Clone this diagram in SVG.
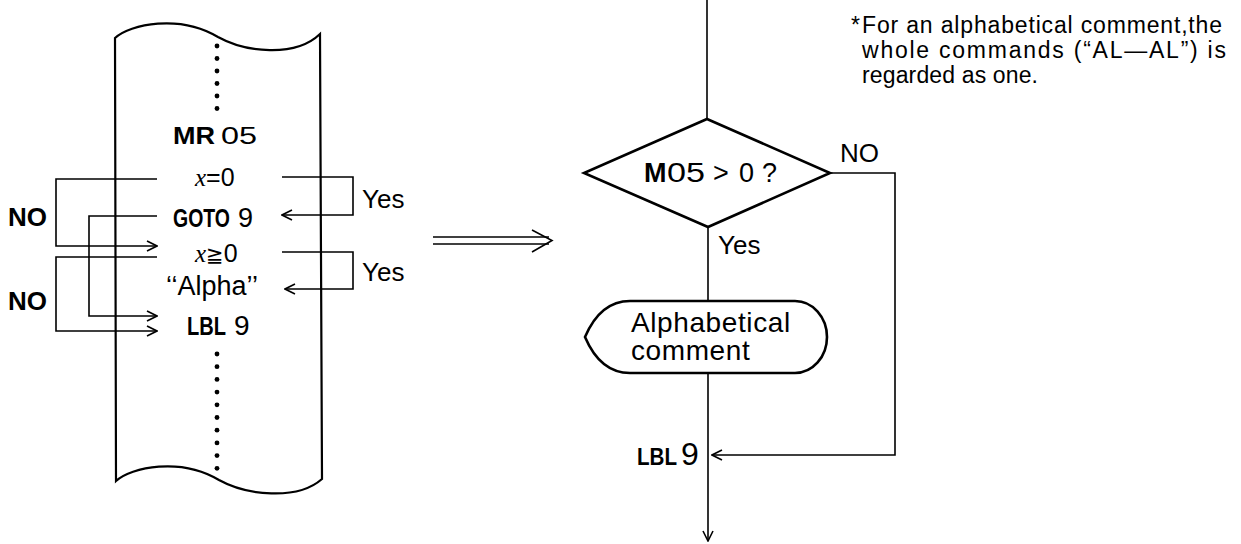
<svg xmlns="http://www.w3.org/2000/svg" width="1241" height="544" viewBox="0 0 1241 544">
  <defs>
    <style>
      .ln { fill: none; stroke: #000; stroke-width: 1.6; }
      .thick { fill: none; stroke: #000; stroke-width: 2.6; stroke-linejoin: miter; }
      .tape { fill: #fff; stroke: #000; stroke-width: 2.2; }
      .t { font-family: "Liberation Sans", Arial, sans-serif; fill: #000; }
      .b { font-weight: bold; }
      .it { font-family: "Liberation Serif", "Times New Roman", serif; font-style: italic; }
      .dot { fill: #000; }
    </style>
    <marker id="ah" viewBox="0 0 12 12" refX="11" refY="6" markerWidth="12" markerHeight="12" markerUnits="userSpaceOnUse" orient="auto">
      <path d="M1,1 L11,6 L1,11" fill="none" stroke="#000" stroke-width="1.6"/>
    </marker>
  </defs>
  <rect width="1241" height="544" fill="#fff"/>

  <!-- program tape -->
  <g id="tape">
    <path class="tape" d="M115,38 C130,24 180,14 218,37 C245,52 295,58 320,34 L322,479 C297,501 246,495 219,480 C181,457 131,467 116,481 Z"/>
    <g id="dots-top">
      <circle class="dot" cx="217" cy="46" r="2.4"/>
      <circle class="dot" cx="217" cy="58.5" r="2.4"/>
      <circle class="dot" cx="217" cy="71" r="2.4"/>
      <circle class="dot" cx="217" cy="83.5" r="2.4"/>
      <circle class="dot" cx="217" cy="96" r="2.4"/>
      <circle class="dot" cx="217" cy="108.5" r="2.4"/>
    </g>
    <g id="dots-bottom">
      <circle class="dot" cx="217" cy="354" r="2.4"/>
      <circle class="dot" cx="217" cy="366.7" r="2.4"/>
      <circle class="dot" cx="217" cy="379.4" r="2.4"/>
      <circle class="dot" cx="217" cy="392.1" r="2.4"/>
      <circle class="dot" cx="217" cy="404.8" r="2.4"/>
      <circle class="dot" cx="217" cy="417.5" r="2.4"/>
      <circle class="dot" cx="217" cy="430.2" r="2.4"/>
      <circle class="dot" cx="217" cy="442.9" r="2.4"/>
      <circle class="dot" cx="217" cy="455.6" r="2.4"/>
      <circle class="dot" cx="217" cy="468.3" r="2.4"/>
    </g>
  </g>

  <!-- program steps on the tape -->
  <g id="step-mr05"><text class="t" y="144" font-size="24"><tspan class="b" x="173" textLength="42" lengthAdjust="spacingAndGlyphs">MR</tspan><tspan x="221" textLength="36" lengthAdjust="spacingAndGlyphs">05</tspan></text></g>
  <g id="step-x-eq-0"><text class="t" x="195" y="186" font-size="25"><tspan class="it">x</tspan>=0</text></g>
  <g id="step-goto9"><text class="t" y="227" font-size="25"><tspan class="b" x="173" textLength="57" lengthAdjust="spacingAndGlyphs">GOTO</tspan><tspan x="238" font-size="27">9</tspan></text></g>
  <g id="step-x-ge-0"><text class="t" x="195" y="262" font-size="25"><tspan class="it">x</tspan><tspan font-family="DejaVu Sans, sans-serif" font-size="21">≧</tspan>0</text></g>
  <g id="step-alpha"><text class="t" x="166" y="295" font-size="27" textLength="92" lengthAdjust="spacing">‘‘Alpha’’</text></g>
  <g id="step-lbl9"><text class="t" y="335" font-size="25"><tspan class="b" x="187" textLength="39" lengthAdjust="spacingAndGlyphs">LBL</tspan><tspan x="234" font-size="28">9</tspan></text></g>

  <!-- branch labels on the tape -->
  <g id="labels-left">
    <text class="t b" x="8" y="226" font-size="26">NO</text>
    <text class="t b" x="8" y="310" font-size="26">NO</text>
    <text class="t" x="362" y="208" font-size="26">Yes</text>
    <text class="t" x="362" y="281" font-size="26">Yes</text>
  </g>

  <!-- jumps along the tape -->
  <g id="tape-connectors">
    <polyline class="ln" points="157,179 56,179 56,246 157,246" marker-end="url(#ah)"/>
    <polyline class="ln" points="157,216 89,216 89,316 157,316" marker-end="url(#ah)"/>
    <polyline class="ln" points="157,257 56,257 56,331 157,331" marker-end="url(#ah)"/>
    <polyline class="ln" points="282,177 353,177 353,215 282,215" marker-end="url(#ah)"/>
    <polyline class="ln" points="282,252 353,252 353,289 285,289" marker-end="url(#ah)"/>
  </g>

  <!-- equivalence arrow -->
  <g id="implies">
    <line class="ln" x1="433" y1="237" x2="549" y2="237"/>
    <line class="ln" x1="433" y1="244" x2="549" y2="244"/>
    <polyline class="ln" points="532,230 552,240.5 532,252"/>
  </g>

  <!-- flowchart -->
  <g id="decision">
    <polygon class="thick" points="707,119 830,173 708,227 584,173"/>
    <text class="t" y="182" font-size="27"><tspan class="b" x="644">M</tspan><tspan x="667" textLength="38" lengthAdjust="spacingAndGlyphs">05</tspan><tspan x="713">&gt;</tspan><tspan x="739">0</tspan><tspan x="762">?</tspan></text>
  </g>
  <g id="comment-node">
    <path class="thick" d="M585,337 C594,316 608,301 630,301 L795,301 A32,36 0 0 1 795,373 L630,373 C608,373 594,358 585,337 Z"/>
    <text class="t" x="631" y="332" font-size="28" letter-spacing="0.6">Alphabetical</text>
    <text class="t" x="631" y="360" font-size="28" letter-spacing="0.6">comment</text>
  </g>
  <g id="lbl9-node">
    <text class="t" y="465"><tspan class="b" x="637" font-size="24" textLength="40" lengthAdjust="spacingAndGlyphs">LBL</tspan><tspan x="681" font-size="32">9</tspan></text>
  </g>
  <g id="flow-labels">
    <text class="t" x="840" y="162" font-size="26">NO</text>
    <text class="t" x="718" y="254" font-size="26">Yes</text>
  </g>
  <g id="flow-connectors">
    <line class="ln" x1="707" y1="0" x2="707" y2="119"/>
    <line class="ln" x1="708" y1="227" x2="708" y2="301"/>
    <line class="ln" x1="708" y1="373" x2="708" y2="541" marker-end="url(#ah)"/>
    <polyline class="ln" points="830,173 895,173 895,455 712,455" marker-end="url(#ah)"/>
  </g>

  <!-- footnote -->
  <g id="note">
    <text class="t" x="851" y="33" font-size="23">*</text>
    <text class="t" x="862" y="33" font-size="23" textLength="360" lengthAdjust="spacing">For an alphabetical comment,the</text>
    <text class="t" x="862" y="58" font-size="23" textLength="364" lengthAdjust="spacing">whole commands (“AL—AL”) is</text>
    <text class="t" x="862" y="83" font-size="23" textLength="176" lengthAdjust="spacing">regarded as one.</text>
  </g>
</svg>
